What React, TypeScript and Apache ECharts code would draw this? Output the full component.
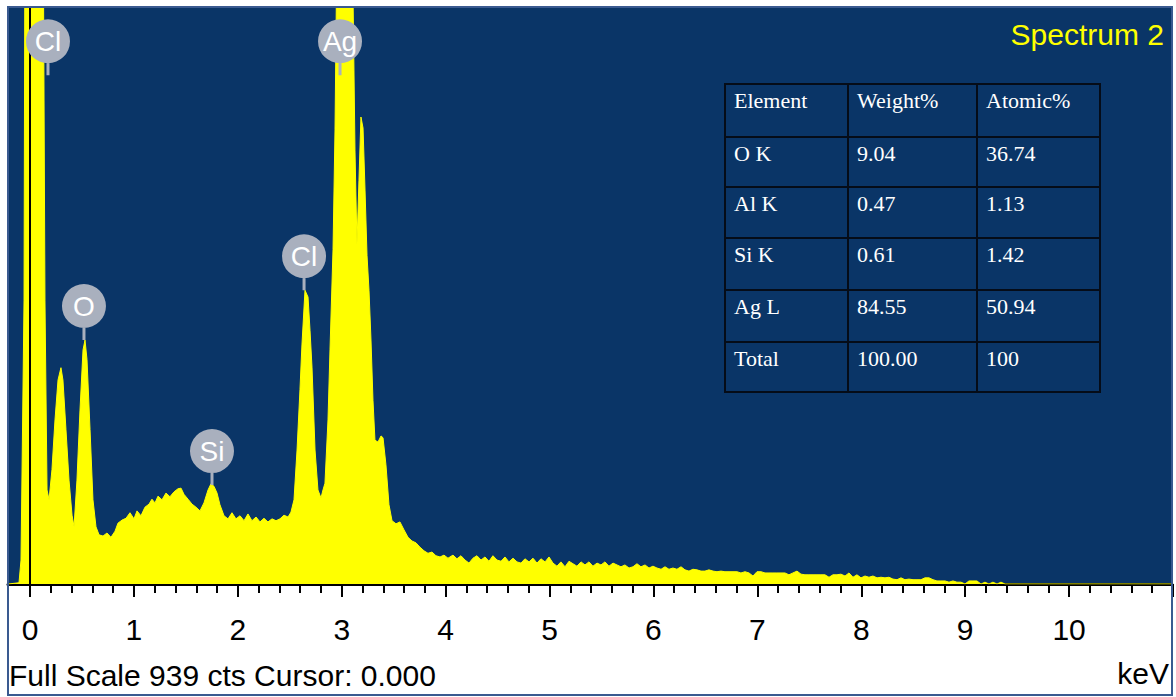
import { useEffect, useRef } from 'react';
import * as echarts from 'echarts';

// ---- data ----
const SPECTRUM_KEV = [
  -0.21, -0.105, -0.086, -0.057, -0.038, 0.057, 0.115, 0.143, 0.163, 0.182,
  0.21, 0.239, 0.268, 0.296, 0.315, 0.344, 0.373, 0.402, 0.421, 0.449,
  0.478, 0.507, 0.526, 0.545, 0.574, 0.602, 0.631, 0.66, 0.698, 0.736,
  0.774, 0.813, 0.841, 0.88, 0.918, 0.956, 0.994, 1.023, 1.061, 1.099,
  1.138, 1.166, 1.195, 1.224, 1.262, 1.3, 1.338, 1.377, 1.415, 1.444,
  1.472, 1.511, 1.549, 1.587, 1.625, 1.663, 1.702, 1.73, 1.759, 1.788,
  1.816, 1.855, 1.893, 1.931, 1.969, 2.008, 2.046, 2.084, 2.122, 2.161,
  2.199, 2.237, 2.275, 2.314, 2.352, 2.39, 2.428, 2.467, 2.495, 2.524,
  2.553, 2.581, 2.6, 2.629, 2.658, 2.677, 2.696, 2.725, 2.753, 2.782,
  2.801, 2.82, 2.849, 2.868, 2.897, 2.916, 2.935, 2.983, 3.04, 3.088,
  3.107, 3.126, 3.145, 3.164, 3.184, 3.203, 3.222, 3.241, 3.26, 3.279,
  3.298, 3.327, 3.356, 3.375, 3.403, 3.432, 3.461, 3.499, 3.537, 3.576,
  3.614, 3.652, 3.69, 3.728, 3.767, 3.805, 3.843, 3.881, 3.92, 3.958,
  3.996, 4.044, 4.082, 4.12, 4.159, 4.197, 4.235, 4.273, 4.312, 4.35,
  4.388, 4.426, 4.465, 4.503, 4.541, 4.579, 4.618, 4.656, 4.694, 4.732,
  4.771, 4.809, 4.847, 4.885, 4.924, 4.962, 5.0, 5.038, 5.076, 5.115,
  5.153, 5.191, 5.229, 5.268, 5.306, 5.344, 5.382, 5.421, 5.459, 5.497,
  5.535, 5.574, 5.612, 5.65, 5.688, 5.727, 5.765, 5.803, 5.841, 5.88,
  5.918, 5.956, 5.994, 6.033, 6.071, 6.109, 6.147, 6.185, 6.224, 6.262,
  6.3, 6.338, 6.377, 6.415, 6.453, 6.491, 6.53, 6.568, 6.606, 6.644,
  6.683, 6.721, 6.759, 6.797, 6.836, 6.874, 6.912, 6.95, 6.989, 7.027,
  7.065, 7.103, 7.141, 7.18, 7.218, 7.256, 7.294, 7.333, 7.371, 7.409,
  7.447, 7.486, 7.524, 7.562, 7.6, 7.639, 7.677, 7.715, 7.753, 7.792,
  7.83, 7.868, 7.906, 7.945, 7.983, 8.021, 8.059, 8.098, 8.136, 8.174,
  8.212, 8.25, 8.289, 8.327, 8.365, 8.403, 8.442, 8.48, 8.518, 8.556,
  8.595, 8.633, 8.671, 8.709, 8.748, 8.786, 8.824, 8.862, 8.901, 8.939,
  8.977, 9.015, 9.053, 9.092, 9.13, 9.168, 9.206, 9.245, 9.283, 9.321,
  10.918,
];
const SPECTRUM_COUNTS = [
  0, 2, 39, 462, 1800, 3000, 1500, 462, 153, 137,
  186, 267, 332, 352, 332, 251, 169, 112, 93, 169,
  283, 381, 397, 365, 251, 137, 93, 80, 78, 83,
  76, 86, 99, 104, 107, 116, 106, 119, 111, 125,
  130, 138, 132, 143, 137, 148, 142, 150, 155, 156,
  146, 138, 130, 125, 119, 132, 153, 163, 159, 148,
  129, 111, 106, 116, 106, 111, 103, 114, 103, 109,
  101, 107, 101, 106, 103, 106, 112, 109, 117, 137,
  218, 316, 389, 478, 467, 413, 353, 218, 153, 140,
  153, 164, 267, 381, 544, 739, 1050, 1300, 1300, 960,
  706, 552, 657, 760, 742, 641, 535, 478, 397, 299,
  234, 231, 241, 238, 194, 129, 103, 98, 101, 88,
  76, 70, 67, 60, 54, 50, 52, 46, 44, 47,
  42, 47, 41, 46, 39, 34, 42, 46, 39, 44,
  37, 46, 39, 37, 44, 36, 42, 36, 34, 41,
  36, 42, 34, 41, 36, 44, 34, 29, 36, 28,
  37, 33, 29, 36, 31, 36, 29, 34, 31, 36,
  29, 34, 31, 28, 31, 26, 28, 33, 28, 31,
  26, 29, 26, 24, 28, 24, 26, 24, 28, 23,
  21, 24, 23, 21, 21, 23, 21, 20, 21, 20,
  20, 20, 20, 18, 20, 18, 13, 20, 20, 18,
  18, 18, 18, 18, 18, 15, 18, 21, 16, 15,
  15, 15, 15, 15, 15, 11, 15, 15, 16, 13,
  18, 11, 15, 10, 13, 11, 13, 10, 11, 10,
  11, 8, 7, 10, 7, 8, 7, 7, 7, 10,
  10, 7, 5, 5, 5, 3, 5, 3, 3, 0,
  5, 5, 5, 0, 3, 0, 3, 0, 3, 0,
  0,
];

const PEAK_NAMES = ['Cl', 'O', 'Si', 'Cl', 'Ag'];
const PEAK_KEV = [0.172, 0.516, 1.74, 2.62, 2.964];
const PEAK_COUNTS = [828, 397, 161, 478, 828];

const FULL_SCALE = 939;
const CURSOR_KEV = 0;
const SPECTRUM_NAME = 'Spectrum 2';
const UNIT = 'keV';

const TABLE_HEAD = ['Element', 'Weight%', 'Atomic%'];
const TABLE_ELEMENTS = ['O K', 'Al K', 'Si K', 'Ag L', 'Total'];
const TABLE_WEIGHT = ['9.04', '0.47', '0.61', '84.55', '100.00'];
const TABLE_ATOMIC = ['36.74', '1.13', '1.42', '50.94', '100'];

// ---- layout / style ----
const W = 1176;
const H = 697;
const PANEL = '#0a3567';
const YELLOW = '#ffff00';
const X_MIN = -0.2103;
const X_MAX = 10.918;
const TABLE_COLS = [725, 848, 977, 1100];
const TABLE_ROWS = [84, 137, 187, 238, 290, 342, 392];
const SANS = '30px "Liberation Sans"';
const LABEL_SYMBOL =
  'path://M0 22 A22 22 0 1 1 44 22 A22 22 0 1 1 0 22 Z M20.5 42 L23.5 42 L23.5 56 L20.5 56 Z';

function textEl(text: string, x: number, y: number, font: string, fill: string, align = 'left') {
  return {
    type: 'text',
    z: 100,
    style: {
      text,
      x,
      y,
      font,
      fill,
      align,
      textAlign: align,
      verticalAlign: 'middle',
      textVerticalAlign: 'middle',
    },
  };
}

export default function App() {
  const ref = useRef<HTMLDivElement>(null);

  useEffect(() => {
    if (!ref.current) return;
    const chart = echarts.init(ref.current, null, { renderer: 'svg' });

    const spectrum = SPECTRUM_KEV.map((k, i) => [k, SPECTRUM_COUNTS[i]]);
    const peaks = PEAK_NAMES.map((n, i) => ({ value: [PEAK_KEV[i], PEAK_COUNTS[i]], name: n }));

    const tableRows = [TABLE_HEAD].concat(
      TABLE_ELEMENTS.map((e, i) => [e, TABLE_WEIGHT[i], TABLE_ATOMIC[i]])
    );
    const tableEls: any[] = [];
    tableRows.forEach((row, r) => {
      row.forEach((cell, c) => {
        tableEls.push({
          type: 'rect',
          z: 99,
          shape: {
            x: TABLE_COLS[c],
            y: TABLE_ROWS[r],
            width: TABLE_COLS[c + 1] - TABLE_COLS[c],
            height: TABLE_ROWS[r + 1] - TABLE_ROWS[r],
          },
          style: { fill: 'none', stroke: '#050c18', lineWidth: 2 },
        });
        tableEls.push(
          textEl(cell, TABLE_COLS[c] + 9, TABLE_ROWS[r] + 16, '22px "Liberation Serif"', '#ffffff')
        );
      });
    });

    const option: any = {
      animation: false,
      backgroundColor: '#ffffff',
      grid: [
        { left: 8, right: W - 1172, top: 7, bottom: H - 584, show: true, backgroundColor: PANEL, borderWidth: 0 },
        { left: 30, right: -4.6, top: 7, bottom: H - 584, show: false },
      ],
      xAxis: [
        {
          type: 'value',
          gridIndex: 0,
          min: X_MIN,
          max: X_MAX,
          axisLine: { show: true, onZero: false, lineStyle: { color: '#000', width: 3 } },
          axisTick: { show: false },
          axisLabel: { show: false },
          splitLine: { show: false },
        },
        {
          type: 'value',
          gridIndex: 1,
          min: 0,
          max: 11,
          interval: 1,
          axisLine: { show: false, onZero: false },
          axisTick: { show: true, length: 13, lineStyle: { color: '#000', width: 2 } },
          minorTick: { show: true, splitNumber: 5, length: 9, lineStyle: { color: '#000', width: 2 } },
          axisLabel: {
            margin: 30,
            fontSize: 30,
            fontFamily: 'Liberation Sans',
            color: '#000',
            formatter: (v: number) => (v <= 10 ? String(v) : ''),
          },
          splitLine: { show: false },
          minorSplitLine: { show: false },
        },
      ],
      yAxis: [
        { type: 'value', gridIndex: 0, min: 0, max: FULL_SCALE, show: false },
        { type: 'value', gridIndex: 1, min: 0, max: FULL_SCALE, show: false },
      ],
      series: [
        {
          type: 'line',
          xAxisIndex: 0,
          yAxisIndex: 0,
          data: spectrum,
          showSymbol: false,
          symbol: 'none',
          clip: true,
          lineStyle: { color: YELLOW, width: 1 },
          areaStyle: { color: YELLOW, opacity: 1 },
          z: 2,
          markLine: {
            silent: true,
            symbol: ['none', 'none'],
            label: { show: false },
            lineStyle: { color: '#000', width: 2, type: 'solid' },
            data: [{ xAxis: CURSOR_KEV }],
            z: 3,
          },
        },
        {
          type: 'scatter',
          xAxisIndex: 0,
          yAxisIndex: 0,
          data: peaks,
          symbol: LABEL_SYMBOL,
          symbolSize: [44, 56],
          symbolOffset: [0, -28],
          itemStyle: { color: '#a9b0be', opacity: 1 },
          clip: false,
          z: 5,
          label: {
            show: true,
            position: 'inside',
            offset: [0, -6],
            formatter: (p: any) => p.name,
            color: '#ffffff',
            fontSize: 28,
            fontFamily: 'Liberation Sans',
          },
        },
      ],
      graphic: [
        textEl(SPECTRUM_NAME, 1164, 34, SANS, YELLOW, 'right'),
        textEl(
          `Full Scale ${FULL_SCALE} cts Cursor: ${CURSOR_KEV.toFixed(3)}`,
          9,
          675,
          SANS,
          '#000000'
        ),
        textEl(UNIT, 1169, 673, SANS, '#000000', 'right'),
        ...tableEls,
        {
          type: 'rect',
          z: 101,
          shape: { x: 8, y: 7, width: 1164, height: 688 },
          style: { fill: 'none', stroke: '#3a5a90', lineWidth: 2 },
        },
      ],
    };

    chart.setOption(option);
    return () => chart.dispose();
  }, []);

  return (
    <div
      ref={ref}
      style={{ position: 'absolute', left: 0, top: 0, width: W, height: H }}
    />
  );
}
